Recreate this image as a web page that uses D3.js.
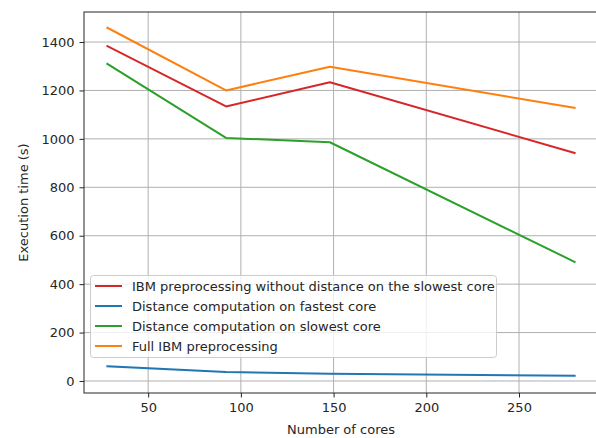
<!DOCTYPE html>
<html>
<head>
<meta charset="utf-8">
<script src="https://cdn.jsdelivr.net/npm/d3@7"></script>
<style>
  body { margin: 0; background: #fff; }
  svg text { font-family: "DejaVu Sans", sans-serif; fill: #262626; }
</style>
</head>
<body>
<svg id="chart" width="596" height="438"></svg>
<script>
const cores = [28, 92, 148, 280];
const ibmNoDistance = [1383, 1134, 1234, 942];
const distFastest = [61, 37, 30, 22];
const distSlowest = [1310, 1004, 986, 492];
const fullIbm = [1459, 1200, 1298, 1128];

const xTicks = [50, 100, 150, 200, 250];
const yTicks = [0, 200, 400, 600, 800, 1000, 1200, 1400];

const seriesNames = [
  "IBM preprocessing without distance on the slowest core",
  "Distance computation on fastest core",
  "Distance computation on slowest core",
  "Full IBM preprocessing"
];
const seriesValues = [ibmNoDistance, distFastest, distSlowest, fullIbm];
const seriesColors = ["#d62728", "#1f77b4", "#2ca02c", "#ff7f0e"];

const svg = d3.select("#chart");
const plotLeft = 84, plotRight = 598, plotTop = 12, plotBottom = 393;

const x = d3.scaleLinear().domain([15.4, 292.6]).range([plotLeft, plotRight]);
const y = d3.scaleLinear().domain([-49.6, 1524]).range([plotBottom, plotTop]);

// grid
const grid = svg.append("g").attr("stroke", "#b0b0b0").attr("stroke-width", 1);
grid.selectAll(".gx").data(xTicks).enter().append("line")
  .attr("x1", d => x(d)).attr("x2", d => x(d))
  .attr("y1", plotTop).attr("y2", plotBottom);
grid.selectAll(".gy").data(yTicks).enter().append("line")
  .attr("x1", plotLeft).attr("x2", plotRight)
  .attr("y1", d => y(d)).attr("y2", d => y(d));

// lines
const line = d3.line().x((d, i) => x(cores[i])).y(d => y(d));
seriesValues.forEach((vals, i) => {
  svg.append("path")
    .datum(vals)
    .attr("d", line)
    .attr("fill", "none")
    .attr("stroke", seriesColors[i])
    .attr("stroke-width", 2)
    .attr("stroke-linejoin", "round")
    .attr("stroke-linecap", "square");
});

// axes
const xAxis = svg.append("g")
  .attr("transform", `translate(0,${plotBottom})`)
  .call(d3.axisBottom(x).tickValues(xTicks).tickSize(4.5).tickPadding(5).tickFormat(d3.format("d")));
const yAxis = svg.append("g")
  .attr("transform", `translate(${plotLeft},0)`)
  .call(d3.axisLeft(y).tickValues(yTicks).tickSize(4.5).tickPadding(5).tickFormat(d3.format("d")));
[xAxis, yAxis].forEach(a => {
  a.selectAll("text").style("font-size", "13px").attr("fill", "#262626");
  a.selectAll("line").attr("stroke", "#262626");
  a.select(".domain").remove();
});

// spines
svg.append("rect")
  .attr("x", plotLeft).attr("y", plotTop)
  .attr("width", plotRight - plotLeft).attr("height", plotBottom - plotTop)
  .attr("fill", "none").attr("stroke", "#262626").attr("stroke-width", 1);

// axis labels
svg.append("text")
  .attr("x", (plotLeft + plotRight) / 2).attr("y", 434)
  .attr("text-anchor", "middle").style("font-size", "13px")
  .text("Number of cores");
svg.append("text")
  .attr("transform", `translate(28,${(plotTop + plotBottom) / 2}) rotate(-90)`)
  .attr("text-anchor", "middle").style("font-size", "13px")
  .text("Execution time (s)");

// legend
const legend = svg.append("g");
legend.append("rect")
  .attr("x", 90.5).attr("y", 275.5).attr("width", 406).attr("height", 82)
  .attr("rx", 3)
  .attr("fill", "white").attr("fill-opacity", 0.8)
  .attr("stroke", "#cccccc");
seriesNames.forEach((name, i) => {
  const ly = 286 + i * 20;
  legend.append("line")
    .attr("x1", 95).attr("x2", 122).attr("y1", ly).attr("y2", ly)
    .attr("stroke", seriesColors[i]).attr("stroke-width", 2);
  legend.append("text")
    .attr("x", 132).attr("y", ly).attr("dy", "0.35em")
    .style("font-size", "13px")
    .text(name);
});
</script>
</body>
</html>
